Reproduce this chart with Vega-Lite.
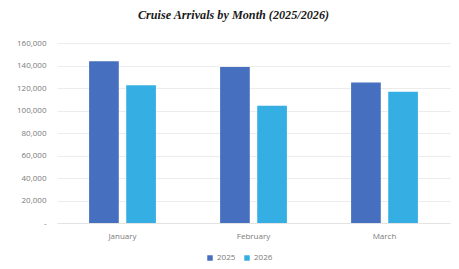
{
  "$schema": "https://vega.github.io/schema/vega-lite/v6.json",
  "width": 393,
  "height": 180,
  "autosize": {"type": "none"},
  "padding": {"left": 57, "top": 43, "right": 9, "bottom": 46},
  "background": "white",
  "title": {
    "text": "Cruise Arrivals by Month (2025/2026)",
    "font": "Liberation Serif",
    "fontSize": 12.2,
    "fontStyle": "italic",
    "fontWeight": "bold",
    "color": "#1a1a1a",
    "anchor": "middle",
    "dx": -20,
    "offset": 18
  },
  "data": {
    "values": [
      {"month": "January", "year": "2025", "arrivals": 143800},
      {"month": "January", "year": "2026", "arrivals": 122500},
      {"month": "February", "year": "2025", "arrivals": 138700},
      {"month": "February", "year": "2026", "arrivals": 104200},
      {"month": "March", "year": "2025", "arrivals": 124900},
      {"month": "March", "year": "2026", "arrivals": 116600}
    ]
  },
  "mark": {"type": "bar"},
  "encoding": {
    "x": {
      "field": "month",
      "type": "nominal",
      "sort": ["January", "February", "March"],
      "scale": {"paddingInner": 0.49, "paddingOuter": 0.245},
      "axis": {
        "title": null,
        "labelAngle": 0,
        "labelFont": "Open Sans",
        "labelFontSize": 8,
        "labelColor": "#7a7a7a",
        "domainColor": "#e3e3e3",
        "ticks": false,
        "labelPadding": 9
      }
    },
    "xOffset": {
      "field": "year",
      "type": "nominal",
      "scale": {"paddingInner": 0.2, "paddingOuter": 0}
    },
    "y": {
      "field": "arrivals",
      "type": "quantitative",
      "scale": {"domain": [0, 160000], "nice": false},
      "axis": {
        "title": null,
        "values": [0, 20000, 40000, 60000, 80000, 100000, 120000, 140000, 160000],
        "labelExpr": "datum.value == 0 ? '-' : format(datum.value, ',')",
        "labelFont": "Open Sans",
        "labelFontSize": 8,
        "labelColor": "#7a7a7a",
        "domain": false,
        "ticks": false,
        "labelPadding": 11,
        "gridColor": "#ececec",
        "gridWidth": 1
      }
    },
    "color": {
      "field": "year",
      "type": "nominal",
      "scale": {"domain": ["2025", "2026"], "range": ["#4670BF", "#35AFE3"]},
      "legend": {
        "title": null,
        "orient": "none",
        "direction": "horizontal",
        "legendX": 149,
        "legendY": 211,
        "symbolType": "square",
        "symbolSize": 30,
        "labelFont": "Open Sans",
        "labelFontSize": 8,
        "labelColor": "#7a7a7a",
        "columnPadding": 7,
        "labelOffset": 3
      }
    }
  },
  "config": {"view": {"stroke": null}}
}
